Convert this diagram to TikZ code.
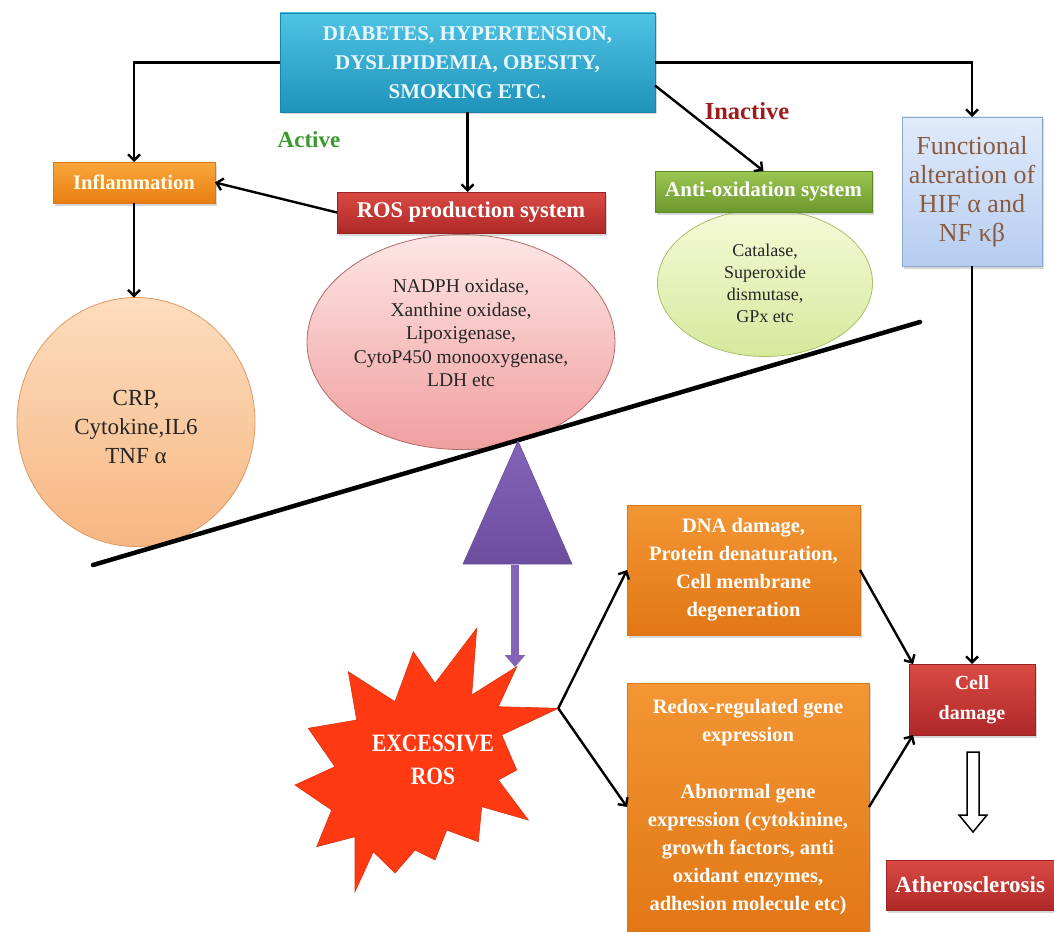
\documentclass[tikz,border=0pt]{standalone}
\usepackage{fontspec}
\setmainfont{Liberation Serif}
\newfontfamily\condserif{Liberation Serif}[FakeStretch=0.86]
\usetikzlibrary{arrows.meta,shapes.geometric,shadows,calc}
\definecolor{topA}{HTML}{4FC4E4}
\definecolor{topB}{HTML}{1F92BA}
\definecolor{topD}{HTML}{1C84A8}
\definecolor{topT}{HTML}{E9F8FC}
\definecolor{orA}{HTML}{F9A73C}
\definecolor{orB}{HTML}{E97E12}
\definecolor{orD}{HTML}{D9761A}
\definecolor{rdA}{HTML}{DA4A44}
\definecolor{rdB}{HTML}{AE2828}
\definecolor{rdD}{HTML}{9A2424}
\definecolor{grA}{HTML}{9CC652}
\definecolor{grB}{HTML}{6C982C}
\definecolor{grD}{HTML}{5E8A26}
\definecolor{blA}{HTML}{E0EBFB}
\definecolor{blB}{HTML}{B6CDF0}
\definecolor{blD}{HTML}{8EA7CF}
\definecolor{blT}{HTML}{8A5A3E}
\definecolor{dnA}{HTML}{F39634}
\definecolor{dnB}{HTML}{E27716}
\definecolor{crA}{HTML}{FCDDBE}
\definecolor{crB}{HTML}{F7B682}
\definecolor{crD}{HTML}{DE9A62}
\definecolor{pkA}{HTML}{FDE6E6}
\definecolor{pkB}{HTML}{F19E9E}
\definecolor{pkD}{HTML}{B36A6A}
\definecolor{lgA}{HTML}{F5FAD8}
\definecolor{lgB}{HTML}{D6E99C}
\definecolor{lgD}{HTML}{A9C066}
\definecolor{purp}{HTML}{6C4D9E}
\definecolor{purpL}{HTML}{8464B8}
\definecolor{starC}{HTML}{FF3A12}
\definecolor{activeC}{HTML}{3A9A2E}
\definecolor{inactC}{HTML}{9E1C1C}
\begin{document}
\begin{tikzpicture}[x=1pt,y=-1pt,
  box/.style={rectangle, inner sep=0pt, outer sep=0pt, align=center,
    font=\bfseries\fontsize{20.5}{28}\selectfont, text=white, line width=0.6pt,
    drop shadow={opacity=0.3,shadow xshift=2pt,shadow yshift=-2.5pt}},
  ell/.style={ellipse, inner sep=0pt, outer sep=0pt, align=center, line width=0.8pt, text=black!85},
  arr/.style={draw=black, line width=2.4pt, -{Straight Barb[length=6pt,width=12pt]}},
  lbl/.style={font=\bfseries\fontsize{23}{26}\selectfont, inner sep=0pt}
]
\useasboundingbox (0,0) rectangle (1054,931);
\fill[white] (0,0) rectangle (1054,931);

% ellipses
\node[ell, minimum width=238pt, minimum height=249pt, top color=crA, bottom color=crB, draw=crD] (crp) at (136,422) {};
\node[align=center, inner sep=0pt, text=black!85, font=\fontsize{23}{29}\selectfont] (crptxt) at (136,427) {CRP,\\Cytokine,IL6\\TNF α};
\node[ell, minimum width=308pt, minimum height=215pt, top color=pkA, bottom color=pkB, draw=pkD] (nadph) at (461,342) {};
\node[align=center, inner sep=0pt, text=black!85, font=\fontsize{19.5}{23.5}\selectfont] (nadphtxt) at (461,333)
  {NADPH oxidase,\\Xanthine oxidase,\\Lipoxigenase,\\CytoP450 monooxygenase,\\LDH etc};
\node[ell, minimum width=215pt, minimum height=147pt, top color=lgA, bottom color=lgB, draw=lgD,
  font=\fontsize{18}{22}\selectfont] (cat) at (765,283) {Catalase,\\Superoxide\\dismutase,\\GPx etc};

% boxes
\node[box, minimum width=375pt, minimum height=99pt, top color=topA, bottom color=topB, draw=topD,
  text=topT, font=\bfseries\fontsize{21}{29}\selectfont] (top) at (467.5,62.5)
  {DIABETES, HYPERTENSION,\\DYSLIPIDEMIA, OBESITY,\\SMOKING ETC.};
\node[box, minimum width=162pt, minimum height=41pt, top color=orA, bottom color=orB, draw=orD,
  text=white!92!yellow, font=\bfseries\fontsize{20.7}{28}\selectfont] (inflam) at (134,182.5) {Inflammation};
\node[box, minimum width=268pt, minimum height=41pt, top color=rdA, bottom color=rdB, draw=rdD,
  font=\bfseries\fontsize{22.5}{28}\selectfont] (ros) at (471,212.5) {ROS production system};
\node[box, minimum width=217pt, minimum height=41pt, top color=grA, bottom color=grB, draw=grD,
  font=\bfseries\fontsize{21}{28}\selectfont] (anti) at (763.5,191.5) {Anti-oxidation system};
\node[box, minimum width=140pt, minimum height=149pt, top color=blA, bottom color=blB, draw=blD,
  text=blT, font=\fontsize{26}{29}\selectfont] (func) at (972,191.5) {Functional\\alteration of\\HIF α and\\NF κβ};
\node[box, minimum width=233pt, minimum height=130pt, top color=dnA, bottom color=dnB, draw=orD] (dna) at (743.5,570)
  {DNA damage,\\Protein denaturation,\\Cell membrane\\degeneration};
\node[box, minimum width=242pt, minimum height=248pt, top color=dnA, bottom color=dnB, draw=orD] (redox) at (748,807)
  {Redox-regulated gene\\expression\\[29pt]Abnormal gene\\expression (cytokinine,\\growth factors, anti\\oxidant enzymes,\\adhesion molecule etc)};
\node[box, minimum width=126pt, minimum height=71pt, top color=rdA, bottom color=rdB, draw=rdD, font=\bfseries\fontsize{20}{30}\selectfont] (cell) at (972,699.5) {Cell\\damage};
\node[box, minimum width=168pt, minimum height=50pt, top color=rdA, bottom color=rdB, draw=rdD, font=\bfseries\fontsize{23}{28}\selectfont] (athero) at (970,885) {Atherosclerosis};

% labels
\node[lbl, text=activeC] (active) at (309,140) {Active};
\node[lbl, text=inactC, font=\bfseries\fontsize{24.5}{26}\selectfont] (inactive) at (747,111) {Inactive};

% connectors
\draw[arr] (top.west) -| (inflam.north);
\draw[arr] (top.east) -| (func.north);
\draw[arr] (top.south) -- (top.south |- ros.north);
\draw[arr] (top.-7) -- (anti.north);
\draw[arr] (ros.west) -- (inflam.east);
\draw[arr] (inflam.south) -- (inflam.south |- crp.north);
\draw[arr] (func.south) -- (func.south |- cell.north);
\draw[arr] (dna.east) -- ($(cell.north west)+(4,0)$);
\draw[arr] (redox.east) -- ($(cell.south west)+(4,0)$);

% seesaw
\coordinate (sL) at (93,565);
\coordinate (sR) at (920,322);
\draw[line width=4.5pt, line cap=round] (sL) -- (sR);

% fulcrum triangle
\coordinate (triApex) at (518,441);
\coordinate (triBL) at (463,564);
\coordinate (triBR) at (572,564);
\shade[top color=purpL, bottom color=purp, draw=purp, line width=0.6pt] (triApex) -- (triBR) -- (triBL) -- cycle;
\coordinate (triBase) at (515,565);
\coordinate (starTop) at (515,667);
\draw[draw=purpL, line width=7.5pt, -{Triangle[length=12pt,width=20pt]}] (triBase) -- (starTop);

% star
\fill[starC, draw=starC!85!black, line width=0.6pt]
  (476.7,628.3) -- (471.7,695) -- (516.7,666.7) -- (498.3,706.7) -- (558.3,708.3)
  -- (501.7,735) -- (516.7,770) -- (498.3,780) -- (528.3,820) -- (481.7,806.7)
  -- (478.3,841.7) -- (446.7,830) -- (435,860) -- (415,850) -- (395,873)
  -- (373.3,851.7) -- (355,891.7) -- (355,836.7) -- (316.7,846.7) -- (331.7,810)
  -- (295,785) -- (335,766.7) -- (308.3,728.3) -- (356.7,720) -- (348.3,671.7)
  -- (395,701.7) -- (413.3,651.7) -- (435,683.3) -- cycle;
\node[align=center, inner sep=0pt, text=white, font=\condserif\bfseries\fontsize{25}{33}\selectfont] (exros) at (433,760) {EXCESSIVE\\ROS};
\coordinate (starTip) at (558.3,708.3);
\draw[arr] (starTip) -- (dna.west);
\draw[arr] (starTip) -- (redox.west);

% hollow arrow cell -> atherosclerosis
\draw[line width=1.5pt, fill=white] (967,752) -- (979,752) -- (979,815) -- (987,815) -- (973,832) -- (959,815) -- (967,815) -- cycle;
\end{tikzpicture}
\end{document}
